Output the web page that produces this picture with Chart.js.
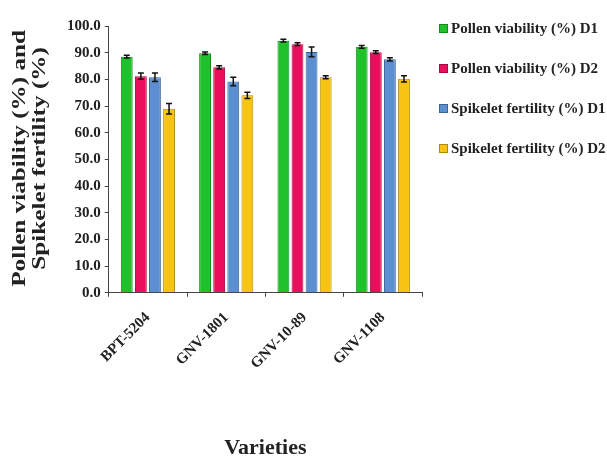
<!DOCTYPE html>
<html>
<head>
<meta charset="utf-8">
<script src="https://cdn.jsdelivr.net/npm/chart.js@4"></script>
<style>
  html, body { margin: 0; padding: 0; background: #fff; }
  #wrap { position: relative; width: 607px; height: 462px; }
  #legend { position: absolute; left: 439px; top: 20px; margin: 0; padding: 0; list-style: none;
            font-family: 'Liberation Serif', 'DejaVu Serif', serif; font-weight: bold; font-size: 15px; color: #222; }
  #legend li { height: 40px; white-space: nowrap; }
  #legend span { display: inline-block; width: 9px; height: 9px; margin-right: 3px; border: 1px solid; box-sizing: border-box; }
</style>
</head>
<body>
<div id="wrap">
  <canvas id="graph1" width="607" height="462"></canvas>
  <ul id="legend"></ul>
</div>
<script>
// données
let varieties = ["BPT-5204", "GNV-1801", "GNV-10-89", "GNV-1108"];
let pollenD1 = [88.5, 89.8, 94.5, 92.2];
let pollenD2 = [81.2, 84.5, 93.2, 90.2];
let spikeD1 = [80.8, 79.2, 90.3, 87.5];
let spikeD2 = [69.0, 74.0, 80.8, 80.2];
let errPollenD1 = [0.5, 0.5, 0.5, 0.5];
let errPollenD2 = [1.2, 0.6, 0.5, 0.5];
let errSpikeD1 = [1.6, 1.6, 1.8, 0.6];
let errSpikeD2 = [2.0, 1.2, 0.6, 1.2];
let yTicks = [0, 10, 20, 30, 40, 50, 60, 70, 80, 90, 100];
let yTitle = ["Pollen viability (%) and", "Spikelet fertility (%)"];

const serif = "'Liberation Serif', 'DejaVu Serif', serif";

// barres d'erreur
const errorBars = {
  id: "errorBars",
  afterDatasetsDraw(chart) {
    const ctx = chart.ctx;
    const yScale = chart.scales.y;
    ctx.save();
    ctx.strokeStyle = "#111";
    ctx.lineWidth = 1.5;
    chart.data.datasets.forEach((ds, i) => {
      const meta = chart.getDatasetMeta(i);
      meta.data.forEach((bar, j) => {
        const v = ds.data[j];
        const e = ds.errors[j];
        const top = yScale.getPixelForValue(v + e);
        const bot = yScale.getPixelForValue(v - e);
        ctx.beginPath();
        ctx.moveTo(bar.x, top);
        ctx.lineTo(bar.x, bot);
        ctx.moveTo(bar.x - 3, top);
        ctx.lineTo(bar.x + 3, top);
        ctx.moveTo(bar.x - 3, bot);
        ctx.lineTo(bar.x + 3, bot);
        ctx.stroke();
      });
    });
    ctx.restore();
  }
};

// titre axe y (deux lignes, étiré)
const yAxisTitle = {
  id: "yAxisTitle",
  afterDraw(chart) {
    const ctx = chart.ctx;
    const area = chart.chartArea;
    const cy = (area.top + area.bottom) / 2 - 1;
    ctx.save();
    ctx.fillStyle = "#222";
    ctx.font = "bold 18px " + serif;
    ctx.textAlign = "center";
    ctx.textBaseline = "middle";
    yTitle.forEach((t, i) => {
      ctx.save();
      ctx.translate(20 + i * 20, cy);
      ctx.rotate(-Math.PI / 2);
      ctx.scale(1.4, 1);
      ctx.fillText(t, 0, 0);
      ctx.restore();
    });
    ctx.restore();
  }
};

let datagraph = [
  { label: "Pollen viability (%) D1", data: pollenD1, errors: errPollenD1, backgroundColor: "#1fc22b", borderColor: "#138a1a" },
  { label: "Pollen viability (%) D2", data: pollenD2, errors: errPollenD2, backgroundColor: "#ea0f5c", borderColor: "#a80a40" },
  { label: "Spikelet fertility (%) D1", data: spikeD1, errors: errSpikeD1, backgroundColor: "#5b8fd2", borderColor: "#3c6396" },
  { label: "Spikelet fertility (%) D2", data: spikeD2, errors: errSpikeD2, backgroundColor: "#f8c414", borderColor: "#b08a0c" }
];
datagraph.forEach(d => { d.borderWidth = 1; d.barPercentage = 0.84; d.categoryPercentage = 0.72; });

// légende html
let legend = document.getElementById("legend");
datagraph.forEach(d => {
  legend.insertAdjacentHTML("beforeend",
    '<li><span style="background:' + d.backgroundColor + ';border-color:' + d.borderColor + '"></span>' + d.label + '</li>');
});

let ctx = document.getElementById("graph1").getContext("2d");
let chart = new Chart(ctx, {
  type: "bar",
  data: { labels: varieties, datasets: datagraph },
  plugins: [errorBars, yAxisTitle],
  options: {
    responsive: false,
    animation: false,
    layout: { padding: { top: 26, right: 185, bottom: 0, left: 63 } },
    plugins: {
      tooltip: { enabled: false },
      legend: { display: false }
    },
    scales: {
      x: {
        grid: { display: true, drawOnChartArea: false, tickLength: 4, color: "#444" },
        border: { color: "#444", width: 1 },
        ticks: {
          color: "#222",
          padding: 12,
          maxRotation: 45,
          minRotation: 45,
          font: { family: serif, size: 15, weight: "bold" }
        },
        title: {
          display: true,
          text: "Varieties",
          color: "#222",
          padding: { top: 51, bottom: 0 },
          font: { family: serif, size: 22, weight: "bold" }
        }
      },
      y: {
        min: 0,
        max: 100,
        afterBuildTicks: axis => { axis.ticks = yTicks.map(v => ({ value: v })); },
        grid: { display: true, drawOnChartArea: false, tickLength: 4, color: "#444" },
        border: { color: "#444", width: 1 },
        ticks: {
          color: "#222",
          padding: 4,
          callback: v => v.toFixed(1),
          font: { family: serif, size: 15, weight: "bold" }
        }
      }
    }
  }
});
</script>
</body>
</html>
